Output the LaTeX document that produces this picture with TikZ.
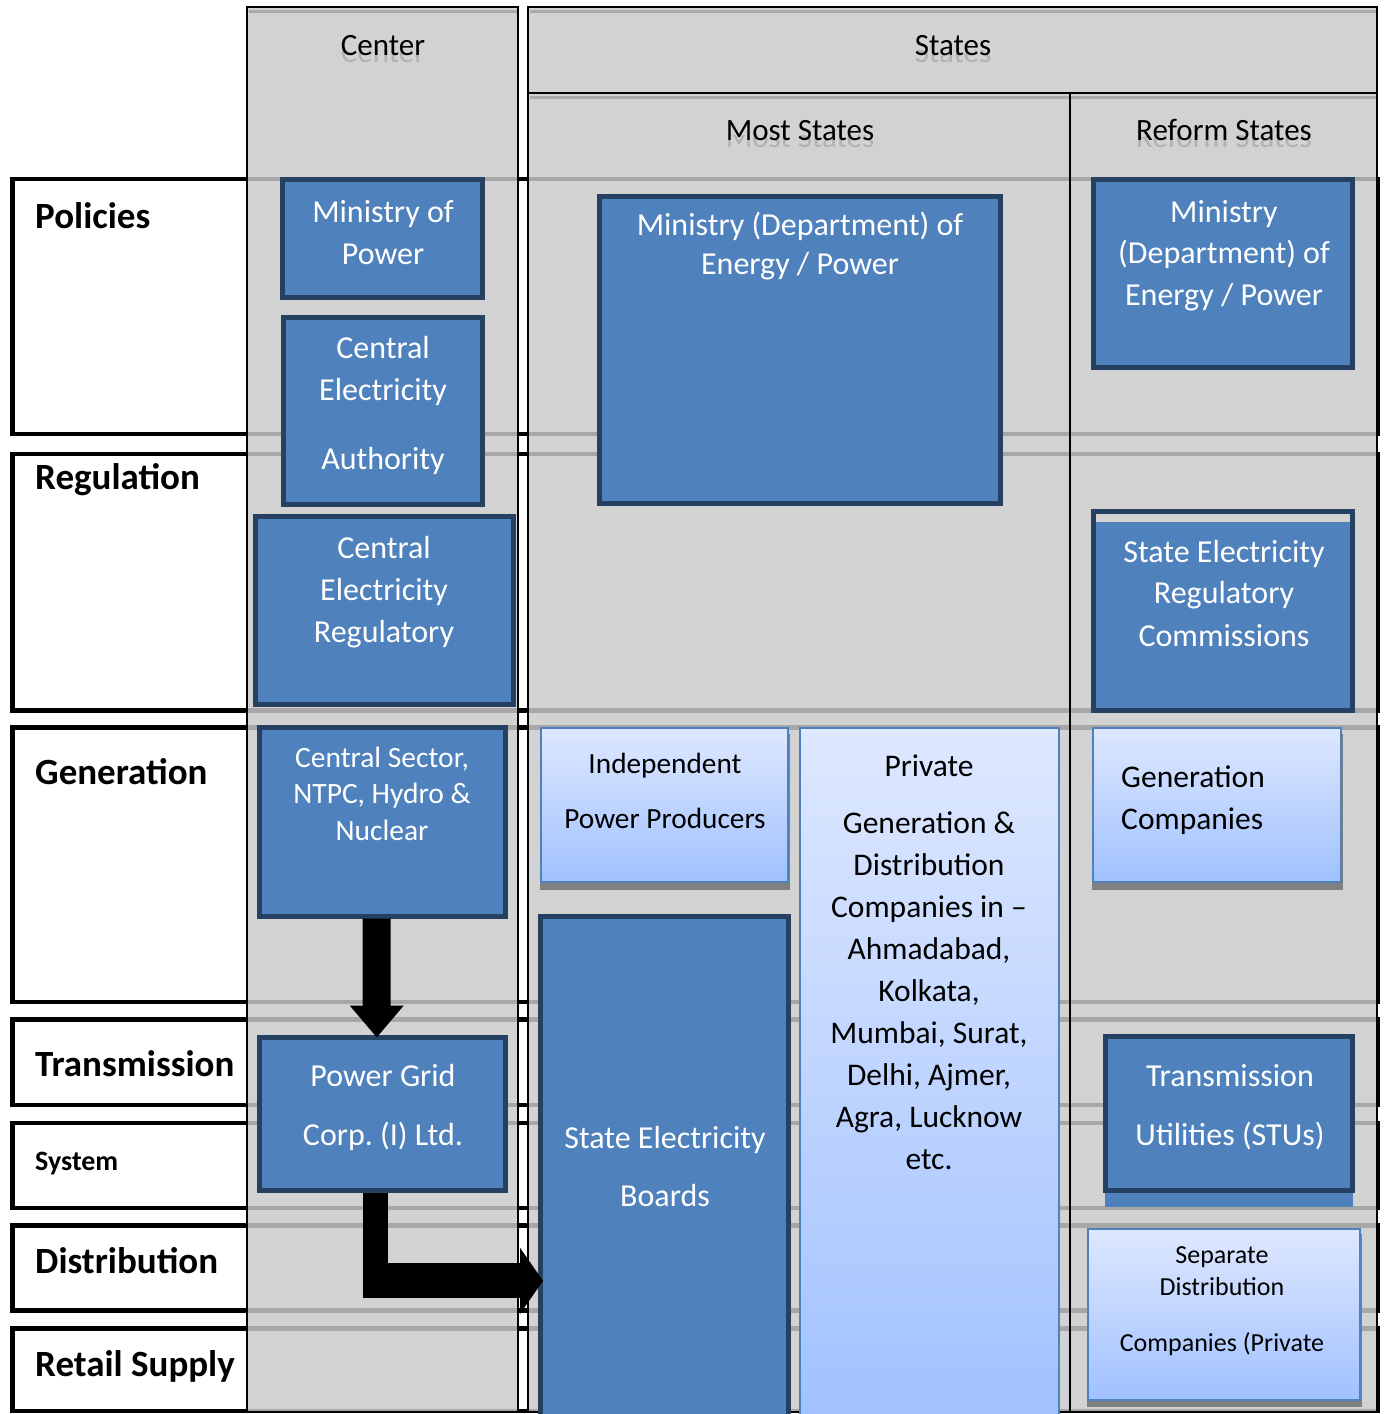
\documentclass[tikz,border=0pt]{standalone}
\usepackage{fontspec}
\setmainfont{Carlito}
\usetikzlibrary{arrows.meta,calc}
\definecolor{dblue}{RGB}{79,129,189}
\definecolor{dnavy}{RGB}{37,64,97}
\definecolor{ltop}{RGB}{222,232,255}
\definecolor{lbot}{RGB}{160,193,255}
\definecolor{colfill}{RGB}{202,202,202}
\definecolor{cellgray}{RGB}{211,211,211}
\definecolor{linegray}{RGB}{170,170,170}
\definecolor{shadowc}{RGB}{128,128,128}
\newcommand\boxat[6]{\node[#1, minimum width={(#4)-(#2)}, minimum height={(#5)-(#3)}] (#6) at ({((#2)+(#4))/2},{((#3)+(#5))/2}) {};}
\newcommand\tlines[4]{\foreach \yy/\tx [count=\ii] in {#4}{\node[#1] (#3\ii) at (#2,\yy) {\tx};}}
\newcommand\hdrtext[4]{%
  \begin{scope}
    \clip ({#1-160},{#2-5}) rectangle ({#1+160},{#2+9});
    \node[hdr, text=black!30] (#4r) at (#1,{#2+7}) {#3};
  \end{scope}
  \node[hdr] (#4) at (#1,#2) {#3};}
\tikzset{
  rowbox/.style={draw=black, line width=4.5pt, fill=white, inner sep=0pt, outer sep=0pt},
  dbox/.style={draw=dnavy, line width=5pt, fill=dblue, inner sep=0pt, outer sep=0pt},
  lbox/.style={draw=dblue, line width=2pt, top color=ltop, bottom color=lbot, inner sep=0pt, outer sep=0pt},
  wt/.style={text=white, font=\fontsize{32}{38}\selectfont, anchor=base, inner sep=0pt},
  wts/.style={wt, font=\fontsize{29.5}{35}\selectfont},
  bt/.style={text=black, font=\fontsize{31.5}{37}\selectfont, anchor=base, inner sep=0pt},
  lab/.style={text=black, font=\bfseries\fontsize{37}{42}\selectfont, anchor=base west, inner sep=0pt},
  hdr/.style={text=black, font=\fontsize{31}{37}\selectfont, anchor=base, inner sep=0pt},
  bigarrow/.style={draw=black},
}
\begin{document}
\frenchspacing
\begin{tikzpicture}[x=1pt,y=-1pt]
\useasboundingbox (0,0) rectangle (1385,1414);
\fill[white] (0,0) rectangle (1385,1414);
% rows
\boxat{rowbox}{12.3}{179}{1378}{434}{pol}
\boxat{rowbox}{12.3}{454}{1378}{710.5}{reg}
\boxat{rowbox}{12.3}{727.5}{1378}{1002}{gen}
\boxat{rowbox}{12.3}{1019.5}{1378}{1105}{tra}
\boxat{rowbox}{12.3}{1123}{1378}{1208}{sys}
\boxat{rowbox}{12.3}{1225.5}{1378}{1310.5}{dis}
\boxat{rowbox}{12.3}{1328.5}{1378}{1411}{ret}
\node[lab] (lpol) at (35,228) {Policies};
\node[lab] (lreg) at (35,489) {Regulation};
\node[lab] (lgen) at (35,784) {Generation};
\node[lab] (ltra) at (35,1076) {Transmission};
\node[lab, font=\bfseries\fontsize{28}{34}\selectfont] (lsys) at (35,1170) {System};
\node[lab] (ldis) at (35,1273) {Distribution};
\node[lab] (lret) at (35,1376) {Retail Supply};
% columns
\fill[colfill, fill opacity=0.83] (247,7) rectangle (518,1412);
\fill[colfill, fill opacity=0.83] (528,7) rectangle (1377,1412);
\draw[linegray, line width=3pt] (248.5,11) -- (516.5,11);
\draw[linegray, line width=3pt] (529.5,11) -- (1375.5,11);
\draw[linegray, line width=3pt] (529.5,97) -- (1375.5,97);
\draw[black, line width=2pt] (247,7) rectangle (518,1412);
\draw[black, line width=2pt] (528,7) rectangle (1377,1412);
\draw[black, line width=2pt] (528,93) -- (1377,93);
\draw[black, line width=2pt] (1070,93) -- (1070,1412);
% headers
\hdrtext{383}{55}{Center}{hc}
\hdrtext{953}{55}{States}{hs}
\hdrtext{800}{140}{Most States}{hm}
\hdrtext{1224}{140}{Reform States}{hr}
% dark boxes
\boxat{dbox}{282.5}{179.5}{482.5}{297.5}{mop}
\boxat{dbox}{283.5}{317.5}{482.5}{504.5}{cea}
\boxat{dbox}{255.3}{516.5}{513.3}{704.2}{cerc}
\boxat{dbox}{259.2}{727.5}{505.4}{916}{cs}
\boxat{dbox}{259.2}{1037.5}{505.5}{1190.5}{pg}
\boxat{dbox}{599.5}{196.5}{1000}{503.5}{moe}
\boxat{dbox}{1093.5}{179.2}{1352.5}{367.5}{rmoe}
\boxat{dbox}{1093.5}{511.8}{1352.5}{710.5}{serc}
\fill[cellgray] (1096,514.3) rectangle (1350,521.7);
\boxat{dbox}{540.5}{916.5}{788}{1430}{seb}
\fill[dblue] (1105,1190) rectangle (1352.7,1207);
\boxat{dbox}{1105.8}{1036.5}{1352.5}{1190.5}{stu}
% light boxes
\fill[shadowc] (539.5,734) rectangle (790,889.5);
\boxat{lbox}{541}{727.7}{788}{882}{ipp}
\boxat{lbox}{799.5}{727.7}{1059}{1430}{priv}
\fill[shadowc] (1092,734) rectangle (1342.5,889.5);
\boxat{lbox}{1093.2}{727.5}{1341}{882}{genco}
\fill[shadowc] (1087,1234) rectangle (1361.5,1407);
\boxat{lbox}{1088.2}{1228.5}{1360}{1400}{sdc}
% texts
\tlines{wt}{383}{mopt}{222/{Ministry of}, 264/{Power}}
\tlines{wt}{383}{ceat}{358/{Central}, 400/{Electricity}, 469/{Authority}}
\tlines{wt}{384}{cerct}{558/{Central}, 600/{Electricity}, 642/{Regulatory}}
\tlines{wts}{382}{cst}{767/{Central Sector,}, 803/{NTPC, Hydro \&}, 840/{Nuclear}}
\tlines{wt}{383}{pgt}{1086/{Power Grid}, 1145/{Corp. (I) Ltd.}}
\tlines{wt}{800}{moet}{235/{Ministry (Department) of}, 274/{Energy / Power}}
\tlines{wt}{1224}{rmoet}{222/{Ministry}, 263/{(Department) of}, 305/{Energy / Power}}
\tlines{wt}{1224}{sercv}{562/{State Electricity}, 603/{Regulatory}, 646/{Commissions}}
\tlines{wt}{665}{sebt}{1148/{State Electricity}, 1206/{Boards}}
\tlines{wt}{1230}{stut}{1086/{Transmission}, 1145/{Utilities (STUs)}}
\tlines{bt, font=\fontsize{29.3}{35}\selectfont}{665}{ippt}{773/{Independent}, 828/{Power Producers}}
\tlines{bt}{929}{privt}{776/{Private}, 833/{Generation \&}, 875/{Distribution}, 917/{Companies in –}, 959/{Ahmadabad,}, 1001/{Kolkata,}, 1043/{Mumbai, Surat,}, 1085/{Delhi, Ajmer,}, 1127/{Agra, Lucknow}, 1169/{etc.}}
\tlines{bt, anchor=base west, font=\fontsize{31.5}{38}\selectfont}{1121}{gencot}{787/{Generation}, 829/{Companies}}
\tlines{bt, font=\fontsize{26}{31}\selectfont}{1222}{sdct}{1263/{Separate}, 1295/{Distribution}, 1351/{Companies (Private}}
% arrows
\draw[bigarrow, line width=28pt, -{Triangle[length=32pt,width=52pt]}] ([xshift=-5.6pt,yshift=-2.5pt]cs.south) -- ([xshift=-5.6pt]pg.north);
\coordinate (elb) at (375.2,1280.8);
\draw[bigarrow, line width=25pt] ([xshift=-7.15pt,yshift=-2.5pt]pg.south) -- ($(elb)+(0,17.5)$);
\draw[bigarrow, line width=35pt, -{Triangle[length=23pt,width=65pt]}] ($(elb)+(-12.5,0)$) -- ($(seb.west |- elb)+(2.5,0)$);
\end{tikzpicture}
\end{document}
